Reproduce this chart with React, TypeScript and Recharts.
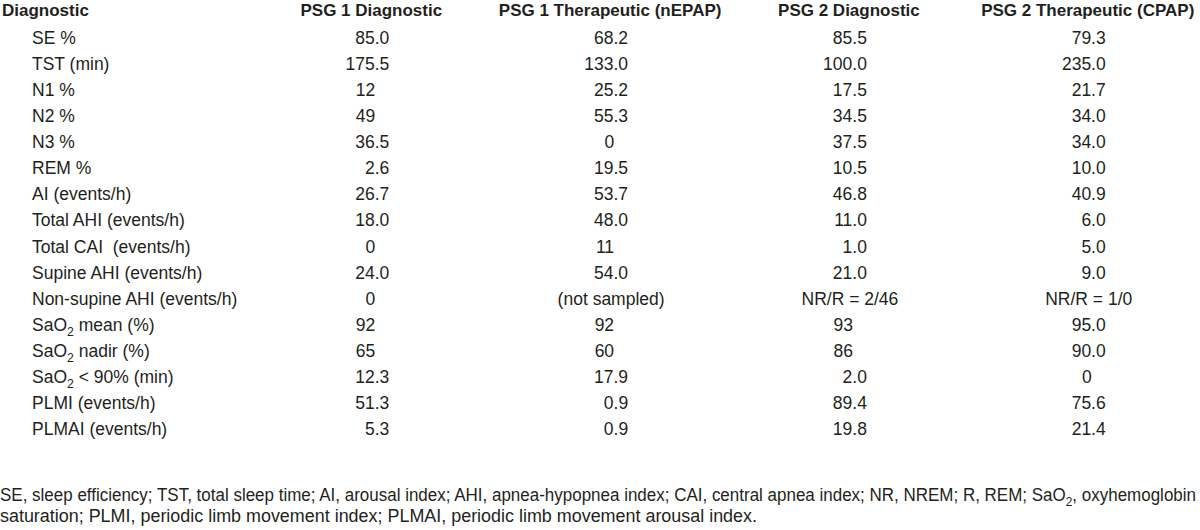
import { ScatterChart, Scatter, XAxis, YAxis, Customized } from 'recharts';

// Filas de la tabla
const METRICS = [
  'SE %',
  'TST (min)',
  'N1 %',
  'N2 %',
  'N3 %',
  'REM %',
  'AI (events/h)',
  'Total AHI (events/h)',
  'Total CAI  (events/h)',
  'Supine AHI (events/h)',
  'Non-supine AHI (events/h)',
  'SaO2 mean (%)',
  'SaO2 nadir (%)',
  'SaO2 < 90% (min)',
  'PLMI (events/h)',
  'PLMAI (events/h)',
];

const COLUMNS = ['PSG 1 Diagnostic', 'PSG 1 Therapeutic (nEPAP)', 'PSG 2 Diagnostic', 'PSG 2 Therapeutic (CPAP)'];

const PSG1_DIAG = ['85.0', '175.5', '12', '49', '36.5', '2.6', '26.7', '18.0', '0', '24.0', '0', '92', '65', '12.3', '51.3', '5.3'];
const PSG1_THER = ['68.2', '133.0', '25.2', '55.3', '0', '19.5', '53.7', '48.0', '11', '54.0', '(not sampled)', '92', '60', '17.9', '0.9', '0.9'];
const PSG2_DIAG = ['85.5', '100.0', '17.5', '34.5', '37.5', '10.5', '46.8', '11.0', '1.0', '21.0', 'NR/R = 2/46', '93', '86', '2.0', '89.4', '19.8'];
const PSG2_THER = ['79.3', '235.0', '21.7', '34.0', '34.0', '10.0', '40.9', '6.0', '5.0', '9.0', 'NR/R = 1/0', '95.0', '90.0', '0', '75.6', '21.4'];

const FOOTNOTE_1 = 'SE, sleep efficiency; TST, total sleep time; AI, arousal index; AHI, apnea-hypopnea index; CAI, central apnea index; NR, NREM; R, REM; SaO2, oxyhemoglobin';
const FOOTNOTE_2 = 'saturation; PLMI, periodic limb movement index; PLMAI, periodic limb movement arousal index.';

const TEXT = '#231f20';
const FONT = '"Liberation Sans", Arial, sans-serif';

const ROW_IDX = METRICS.map((_, i) => i);

const toCells = (col: number, values: string[]) =>
  values.map((text, row) => ({ col, row, text }));

// Texto con el "2" de SaO2 como subíndice
function SubText({ text, x, y, size, anchor = 'start', fit }: any) {
  const parts = text.split('SaO2');
  return (
    <text
      x={x}
      y={y}
      fill={TEXT}
      fontSize={size}
      fontFamily={FONT}
      textAnchor={anchor}
      xmlSpace="preserve"
      textLength={fit}
      lengthAdjust={fit ? 'spacingAndGlyphs' : undefined}
    >
      {parts.map((p: string, i: number) =>
        i === 0 ? (
          <tspan key={i}>{p}</tspan>
        ) : (
          <tspan key={i}>
            <tspan>SaO</tspan>
            <tspan dy={5} fontSize={size * 0.7}>2</tspan>
            <tspan dy={-5}>{p}</tspan>
          </tspan>
        )
      )}
    </text>
  );
}

function CellText(props: any) {
  const { cx, cy, payload } = props;
  const t: string = payload.text;
  const isNum = /^[0-9.]+$/.test(t);
  let x = cx;
  let anchor = 'end';
  if (!isNum) {
    x = cx - 17;
    anchor = 'middle';
  } else if (t.indexOf('.') < 0) {
    x = cx - 14;
  }
  return (
    <text x={x} y={cy + 6} fill={TEXT} fontSize={17.5} fontFamily={FONT} textAnchor={anchor}>
      {t}
    </text>
  );
}

function RowTick(props: any) {
  const { y, payload } = props;
  return <SubText text={METRICS[payload.value]} x={32} y={y + 6} size={17.5} />;
}

function HeaderTick(props: any) {
  const { x, payload } = props;
  return (
    <text x={x - 18} y={16} fill={TEXT} fontSize={17} fontWeight="bold" fontFamily={FONT} textAnchor="middle">
      {COLUMNS[payload.value - 1]}
    </text>
  );
}

function StaticText() {
  return (
    <g>
      <text x={2} y={16} fill={TEXT} fontSize={17} fontWeight="bold" fontFamily={FONT}>
        Diagnostic
      </text>
      <SubText text={FOOTNOTE_1} x={0} y={501} size={17.5} fit={1196} />
      <SubText text={FOOTNOTE_2} x={0} y={522} size={17.5} fit={757} />
    </g>
  );
}

export default function App() {
  return (
    <div style={{ position: 'absolute', left: 0, top: 0, background: '#fff' }}>
      <ScatterChart width={1200} height={530} margin={{ top: 24, right: 0, bottom: 88, left: 0 }}>
        <XAxis
          type="number"
          dataKey="col"
          orientation="top"
          domain={[-0.6261, 4.3948]}
          ticks={[1, 2, 3, 4]}
          height={1}
          axisLine={false}
          tickLine={false}
          tick={<HeaderTick />}
          interval={0}
          allowDataOverflow
        />
        <YAxis
          type="number"
          dataKey="row"
          domain={[-0.5, 15.5]}
          reversed
          ticks={ROW_IDX}
          width={1}
          axisLine={false}
          tickLine={false}
          tick={<RowTick />}
          interval={0}
          allowDataOverflow
        />
        <Scatter data={toCells(1, PSG1_DIAG)} shape={<CellText />} isAnimationActive={false} />
        <Scatter data={toCells(2, PSG1_THER)} shape={<CellText />} isAnimationActive={false} />
        <Scatter data={toCells(3, PSG2_DIAG)} shape={<CellText />} isAnimationActive={false} />
        <Scatter data={toCells(4, PSG2_THER)} shape={<CellText />} isAnimationActive={false} />
        <Customized component={<StaticText />} />
      </ScatterChart>
    </div>
  );
}
